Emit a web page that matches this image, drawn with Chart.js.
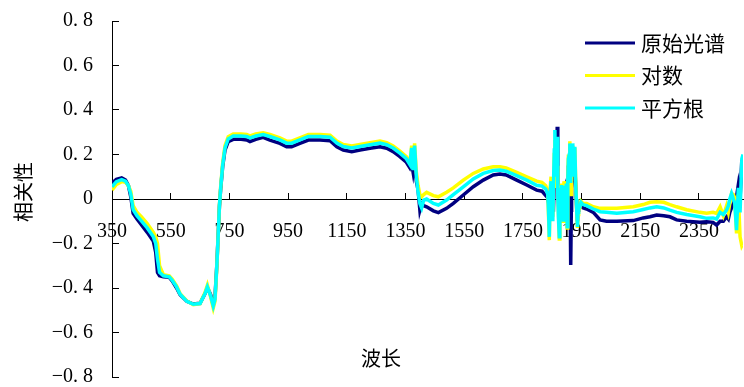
<!DOCTYPE html>
<html><head><meta charset="utf-8">
<script src="https://cdn.jsdelivr.net/npm/chart.js@4.4.0/dist/chart.umd.min.js"></script>
<style>html,body{margin:0;padding:0;background:#fff;}canvas{display:block;}</style>
</head><body>
<canvas id="c" width="744" height="387"></canvas>
<script>
const wavelengths = [
350,365,383,396,406,414,422,435,450,470,491,499,505,512,525,545,555,570,582,605,627,650,667,675,686,695,701,707,712,716,720,727,735,746,763,790,809,820,840,865,888,922,945,962,990,1019,1059,1093,1116,1138,1167,1195,1229,1263,1286,1308,1331,1353,1365,1371,1376,1381,1387,1393,1399,1405,1412,1422,1445,1462,1490,1513,1547,1581,1615,1649,1672,1693,1729,1763,1797,1815,1828,
1835,1838,1840,1843,1846,1848,1850,1852,1854,1857,1859,1861,1863,1865,1867,1869,1871,1874,1876,1878,1880,1882,1885,1888,1890,1892,1894,1896,1898,1901,1903,1905,1908,1910,1912,1913,1915,1916,1918,1920,1923,1927,1930,1932,1934,1936,1938,1940,1944,1948,1955,
1967,1990,2013,2035,2070,2126,2160,2183,2206,2230,2251,2274,2308,2353,2376,2398,2410,2422,2433,2444,2450,2455,2461,2467,2472,2478,2484,2490,2496,2500];
const rawSpectrum = [
0.072,0.088,0.095,0.085,0.060,0.010,-0.065,-0.090,-0.115,-0.150,-0.190,-0.240,-0.330,-0.345,-0.350,-0.352,-0.368,-0.400,-0.430,-0.460,-0.472,-0.469,-0.425,-0.398,-0.430,-0.476,-0.440,-0.300,-0.155,-0.035,0.040,0.145,0.220,0.258,0.268,0.268,0.265,0.258,0.268,0.277,0.265,0.250,0.235,0.235,0.250,0.265,0.265,0.262,0.235,0.220,0.213,0.220,0.228,0.235,0.228,0.213,0.190,0.165,0.140,0.160,0.120,0.170,0.080,0.040,-0.050,-0.020,-0.030,-0.035,-0.053,-0.061,-0.042,-0.020,0.018,0.055,0.085,0.108,0.112,0.108,0.085,0.063,0.040,0.035,0.015,
0.005,-0.02,-0.03,0.02,0.05,-0.03,0.00,-0.04,-0.057,0.10,0.20,0.05,0.10,0.15,0.325,0.05,0.00,-0.10,-0.02,0.03,-0.03,0.06,-0.02,-0.06,0.03,0.04,-0.04,0.00,0.05,-0.08,0.05,0.15,0.10,0.23,-0.15,-0.297,-0.05,0.05,0.10,0.20,0.08,0.15,0.05,0.00,-0.06,-0.10,-0.05,-0.03,-0.035,-0.02,-0.04,
-0.045,-0.060,-0.094,-0.100,-0.100,-0.097,-0.085,-0.080,-0.072,-0.075,-0.080,-0.094,-0.100,-0.104,-0.102,-0.105,-0.117,-0.100,-0.100,-0.080,-0.090,-0.060,-0.040,-0.020,-0.030,0.010,0.063,0.000,0.175,0.100];
const logSpectrum = [
0.040,0.065,0.078,0.075,0.060,0.035,-0.030,-0.060,-0.080,-0.110,-0.150,-0.170,-0.200,-0.300,-0.340,-0.345,-0.360,-0.390,-0.425,-0.458,-0.475,-0.470,-0.420,-0.387,-0.440,-0.490,-0.460,-0.310,-0.160,-0.030,0.050,0.160,0.240,0.280,0.292,0.292,0.290,0.284,0.292,0.298,0.290,0.275,0.260,0.260,0.275,0.290,0.290,0.287,0.260,0.245,0.238,0.245,0.253,0.260,0.253,0.238,0.215,0.190,0.165,0.240,0.140,0.250,0.120,0.060,0.020,0.010,0.020,0.030,0.015,0.010,0.030,0.050,0.085,0.115,0.135,0.145,0.145,0.140,0.120,0.100,0.080,0.075,0.060,
0.03,-0.10,-0.185,0.05,0.10,-0.06,0.00,-0.08,0.03,0.20,0.265,0.12,0.20,0.05,0.15,0.05,-0.05,-0.18,-0.05,0.06,-0.08,0.07,-0.06,-0.10,0.08,0.03,-0.07,-0.02,0.08,-0.13,0.10,0.20,0.16,0.26,0.05,0.10,0.02,0.22,0.15,0.24,0.12,0.23,0.08,0.00,-0.08,-0.13,-0.07,-0.05,-0.04,-0.01,-0.02,
-0.020,-0.035,-0.042,-0.042,-0.042,-0.035,-0.025,-0.015,-0.012,-0.015,-0.025,-0.035,-0.048,-0.060,-0.064,-0.060,-0.065,-0.035,-0.075,-0.030,-0.060,-0.020,0.025,0.020,0.005,-0.155,0.020,-0.170,-0.210,-0.200];
const sqrtSpectrum = [
0.055,0.078,0.087,0.080,0.060,0.022,-0.048,-0.075,-0.098,-0.130,-0.170,-0.200,-0.270,-0.330,-0.345,-0.350,-0.365,-0.395,-0.428,-0.460,-0.473,-0.470,-0.425,-0.395,-0.435,-0.480,-0.450,-0.305,-0.158,-0.032,0.045,0.152,0.230,0.270,0.283,0.283,0.281,0.275,0.283,0.290,0.281,0.266,0.251,0.251,0.266,0.281,0.281,0.278,0.251,0.236,0.229,0.236,0.244,0.251,0.244,0.229,0.206,0.181,0.155,0.230,0.130,0.240,0.100,0.030,-0.020,-0.040,-0.005,0.000,-0.020,-0.027,-0.005,0.020,0.055,0.090,0.115,0.128,0.130,0.125,0.105,0.085,0.062,0.058,0.045,
0.02,-0.08,-0.17,0.03,0.08,-0.07,-0.02,-0.10,0.05,0.22,0.31,0.10,0.15,0.22,0.28,0.02,-0.08,-0.17,-0.03,0.05,-0.07,0.063,-0.05,-0.094,0.06,0.04,-0.06,-0.03,0.07,-0.125,0.08,0.18,0.20,0.25,0.08,0.15,0.20,0.23,0.12,0.25,0.10,0.235,0.06,0.00,-0.07,-0.125,-0.06,-0.04,-0.035,-0.015,-0.025,
-0.030,-0.045,-0.057,-0.060,-0.064,-0.057,-0.047,-0.040,-0.035,-0.040,-0.050,-0.060,-0.070,-0.080,-0.087,-0.085,-0.090,-0.060,-0.070,-0.050,-0.030,0.000,0.025,0.000,-0.020,-0.140,0.050,-0.060,0.180,0.200];
const seriesNames = ['原始光谱','对数','平方根'];
const seriesColors = ['#000080','#FFFF00','#00FFFF'];
const xTicks = [350,550,750,950,1150,1350,1550,1750,1950,2150,2350];
const yTicks = [-0.8,-0.6,-0.4,-0.2,0,0.2,0.4,0.6,0.8];
const xTitle = '波长';
const yTitle = '相关性';

const CJK = '"Noto Sans CJK SC", "Noto Sans", sans-serif';
const SERIF = '"Liberation Serif", "DejaVu Serif", serif';

function fmtY(v){
  if (Math.abs(v) < 1e-9) return '0';
  return (v < 0 ? '\u2212' : '') + Math.abs(v).toFixed(1).replace('.', '. ');
}

const series = [rawSpectrum, logSpectrum, sqrtSpectrum];
const datasets = series.map((vals, i) => ({
  label: seriesNames[i],
  data: wavelengths.map((w, j) => ({x: w, y: vals[j]})),
  borderColor: seriesColors[i],
  backgroundColor: seriesColors[i],
  borderWidth: 3.5,
  pointRadius: 0,
  tension: 0,
  fill: false,
  order: 3 - i
}));

const extras = {
  id: 'extras',
  afterDraw(chart) {
    const ctx = chart.ctx;
    ctx.save();
    const rows = [43, 75.5, 108];
    ctx.font = '21px ' + CJK;
    ctx.textBaseline = 'middle';
    ctx.textAlign = 'left';
    seriesNames.forEach((n, i) => {
      ctx.strokeStyle = seriesColors[i];
      ctx.lineWidth = 3;
      ctx.beginPath();
      ctx.moveTo(585, rows[i]);
      ctx.lineTo(635, rows[i]);
      ctx.stroke();
      ctx.fillStyle = '#000';
      ctx.fillText(n, 641, rows[i]);
    });
    ctx.font = '20px ' + CJK;
    ctx.textAlign = 'center';
    ctx.fillText(xTitle, 381, 358);
    ctx.translate(23, 192);
    ctx.rotate(-Math.PI / 2);
    ctx.fillText(yTitle, 0, 0);
    ctx.restore();
  }
};

new Chart(document.getElementById('c'), {
  type: 'line',
  data: { datasets },
  options: {
    responsive: false,
    animation: false,
    devicePixelRatio: 1,
    layout: { padding: { left: 0, right: 1, top: 21, bottom: 10 } },
    plugins: { legend: { display: false }, tooltip: { enabled: false } },
    scales: {
      x: {
        type: 'linear',
        min: 350, max: 2500,
        position: { y: 0 },
        afterBuildTicks: s => { s.ticks = xTicks.map(v => ({ value: v })); },
        afterFit: s => { s.height = 0; s.paddingLeft = 0; s.paddingRight = 0; },
        grid: { drawOnChartArea: false, drawTicks: true, tickLength: -7, color: '#000', lineWidth: 1 },
        border: { display: true, color: '#000', width: 1 },
        ticks: { color: '#000', font: { family: SERIF, size: 20 }, padding: 28, maxRotation: 0, autoSkip: false,
          callback: v => String(v) }
      },
      y: {
        type: 'linear',
        min: -0.8, max: 0.8,
        position: 'left',
        afterBuildTicks: s => { s.ticks = yTicks.map(v => ({ value: v })); },
        afterFit: s => { s.width = 112; s.paddingTop = 0; s.paddingBottom = 0; },
        grid: { drawOnChartArea: false, drawTicks: true, tickLength: -7, color: '#000', lineWidth: 1 },
        border: { display: true, color: '#000', width: 1 },
        ticks: { color: '#000', font: { family: SERIF, size: 20 }, padding: 26, autoSkip: false,
          callback: v => fmtY(v) }
      }
    }
  },
  plugins: [extras]
});
</script>
</body></html>
